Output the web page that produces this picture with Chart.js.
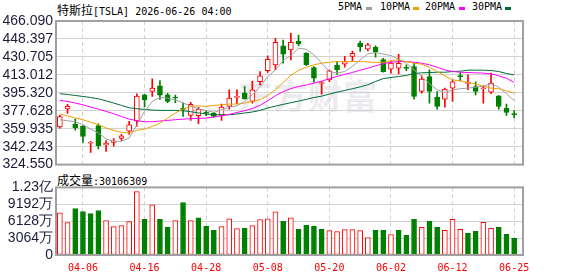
<!DOCTYPE html>
<html>
<head>
<meta charset="utf-8">
<script src="https://cdn.jsdelivr.net/npm/chart.js@4.4.1/dist/chart.umd.min.js"></script>
<style>
body { margin: 0; background: #fff; width: 578px; height: 276px; overflow: hidden; position: relative; }
canvas { position: absolute; left: 0; }
#kline { top: 0; }
#vol { top: 176px; }
.t { position: absolute; white-space: nowrap; line-height: 14px; color: #000; }
.cn { font: 12px "Noto Sans CJK SC"; }
.mono { font: 10px "DejaVu Sans Mono"; }
.sw { position: absolute; width: 6px; height: 3px; top: 7px; }
#wm { position: absolute; left: 238px; top: 70px; font: bold 34px "Noto Sans CJK SC"; color: #ececf0; letter-spacing: 1px; }
</style>
</head>
<body>
<div id="wm">东方财富</div>
<div class="t" style="left:57px;top:1px"><span class="cn">特斯拉</span><span class="mono">[TSLA] 2026-06-26 04:00</span></div>
<div class="t mono" style="left:338px;top:1px">5PMA</div><div class="sw" style="left:366px;background:#a0a0a0"></div>
<div class="t mono" style="left:380px;top:1px">10PMA</div><div class="sw" style="left:413px;background:#f0a000"></div>
<div class="t mono" style="left:425px;top:1px">20PMA</div><div class="sw" style="left:459px;background:#ff00ff"></div>
<div class="t mono" style="left:472px;top:1px">30PMA</div><div class="sw" style="left:505px;background:#006b36"></div>
<div class="t" style="left:57px;top:171px"><span class="cn">成交量</span><span class="mono">:30106309</span></div>
<canvas id="kline" width="578" height="176"></canvas>
<canvas id="vol" width="578" height="100"></canvas>
<script>
const dates = ['03-31','04-01','04-02','04-06','04-07','04-08','04-09','04-10','04-13','04-14',
  '04-15','04-16','04-17','04-20','04-21','04-22','04-23','04-24','04-27','04-28',
  '04-29','04-30','05-01','05-04','05-05','05-06','05-07','05-08','05-11','05-12',
  '05-13','05-14','05-15','05-18','05-19','05-20','05-21','05-22','05-26','05-27',
  '05-28','05-29','06-01','06-02','06-03','06-04','06-05','06-08','06-09','06-10',
  '06-11','06-12','06-15','06-16','06-17','06-18','06-22','06-23','06-24','06-25'];
const tickDates = ['04-06','04-16','04-28','05-08','05-20','06-02','06-12','06-25'];

const opens = [361.6,379.5,364.5,362.2,345.6,363.0,344.0,346.5,350.4,357.5,
  367.3,393.3,396.8,402.2,393.3,390.8,379.5,373.0,372.7,375.6,
  375.0,373.0,381.9,390.8,395.0,386.8,406.4,417.2,422.9,441.5,
  437.5,446.4,434.3,420.2,404.5,408.1,422.5,423.5,431.3,444.1,
  438.3,440.2,428.0,418.6,419.6,419.8,421.2,396.6,411.4,391.1,
  389.1,399.9,411.6,404.6,401.5,399.3,395.9,392.4,379.9,374.2];
const highs = [373.0,384.0,369.5,363.0,347.5,364.7,348.3,350.1,354.5,367.1,
  394.4,393.8,409.0,407.3,394.8,393.0,385.5,386.0,381.0,377.6,
  376.0,384.2,398.3,398.3,401.5,406.6,416.3,431.7,449.1,447.4,
  454.0,452.3,435.0,421.2,406.4,417.9,426.1,431.3,436.5,446.3,
  444.1,441.5,429.4,426.1,433.3,422.9,424.5,412.0,417.9,396.6,
  399.9,408.1,415.3,413.0,406.1,402.2,414.7,392.6,384.2,377.9];
const lows = [360.5,375.0,358.5,346.5,336.6,339.9,337.5,342.6,348.4,354.3,
  362.2,381.5,391.7,388.8,385.5,385.5,372.0,368.0,364.8,372.7,
  371.4,368.1,379.3,384.5,389.1,385.2,403.2,415.3,417.9,424.5,
  427.8,441.5,422.2,405.8,394.0,406.4,413.5,420.5,427.1,436.2,
  436.6,430.5,415.7,414.7,414.0,417.2,389.1,395.0,385.2,379.3,
  381.2,386.8,407.1,398.3,393.3,385.2,394.4,379.3,373.0,370.5];
const closes = [371.8,382.0,360.6,352.4,346.4,343.2,345.6,347.8,353.0,363.7,
  392.0,388.4,400.0,393.0,386.8,390.2,379.0,384.0,379.3,375.2,
  372.0,381.2,390.1,391.7,389.4,398.3,412.0,428.4,445.1,433.3,
  445.1,443.5,422.9,409.8,405.0,417.0,418.0,426.1,434.3,440.8,
  442.5,435.9,416.2,424.5,424.3,419.4,391.7,408.8,396.6,381.9,
  398.9,406.1,411.2,405.0,396.6,399.7,404.8,381.9,376.0,373.8];
const volumes = [76500000,58600000,84300000,78900000,75300000,80700000,62200000,51400000,53200000,60400000,
  114800000,64600000,90900000,64600000,50200000,62200000,95100000,62200000,67600000,52000000,
  44800000,51400000,65800000,47800000,48400000,53200000,64000000,65800000,78300000,61000000,
  67600000,46600000,53800000,52000000,46600000,44200000,42400000,46000000,46000000,44200000,
  31700000,44800000,44800000,37100000,44800000,35900000,64600000,50200000,61000000,50200000,
  44800000,64600000,46600000,39500000,43000000,59200000,48400000,50200000,37700000,30106309];

const ma5 = [368.8,367.8,366.8,363.9,359.6,355.7,349.8,347.5,347.5,350.7,
  363.9,377.0,386.8,390.7,390.1,388.4,385.2,382.5,379.5,378.0,
  376.0,378.6,380.9,382.5,386.8,393.4,401.5,411.4,417.9,427.1,
  432.0,439.2,438.3,432.7,424.5,416.3,414.7,416.3,421.2,427.8,
  433.7,435.0,433.5,432.0,428.4,424.5,417.9,411.4,404.2,398.3,
  395.7,398.3,399.3,399.9,400.9,401.9,404.2,400.9,394.4,387.8];
const ma10 = [374.4,372.7,370.4,368.8,366.2,363.9,360.6,358.3,356.3,355.7,
  358.3,359.6,362.2,365.5,370.4,375.4,379.3,381.9,382.5,381.9,
  382.9,383.5,384.2,384.2,385.2,386.8,388.5,392.5,398.3,405.5,
  412.5,417.5,420.5,422.9,424.5,425.5,426.1,426.1,426.1,426.1,
  425.8,425.2,425.3,427.1,427.8,426.1,424.5,423.5,420.5,416.3,
  412.0,408.1,407.1,405.5,403.8,402.2,399.9,399.3,397.3,395.0];
const ma20 = [387.8,386.8,385.2,383.5,381.2,379.3,377.0,374.7,372.0,369.4,
  367.8,366.8,366.8,367.5,368.1,368.8,369.4,369.8,370.1,370.4,
  371.4,372.7,374.0,376.0,377.6,379.9,383.0,387.5,392.5,396.5,
  399.5,401.5,403.0,404.8,406.8,409.2,411.5,413.5,415.3,417.6,
  419.6,421.9,424.0,425.5,426.1,426.1,425.5,424.5,422.9,420.5,
  417.9,416.3,415.6,415.3,415.0,414.7,414.0,412.0,409.7,405.5];
const ma30 = [394.4,393.7,392.7,391.7,390.7,389.4,387.4,385.2,382.9,380.6,
  379.6,379.0,378.3,378.0,378.0,378.0,377.6,376.7,375.5,374.4,
  373.7,373.7,373.7,374.4,375.4,376.4,378.0,380.3,382.2,383.9,
  385.5,387.1,388.8,390.7,392.0,394.0,396.0,397.6,399.3,401.2,
  403.2,406.5,409.3,410.4,411.4,412.4,414.3,415.0,415.3,415.6,
  415.6,416.3,416.6,417.6,417.6,417.6,417.3,416.3,414.3,413.0];

const priceTicks = [324.550,342.243,359.935,377.628,395.320,413.012,430.705,448.397,466.090];
const volTicks = [0,30640000,61280000,91920000,122560000];
const volTickLabels = ['0','3064万','6128万','9192万','1.23亿'];

const UP = '#ff0000', DOWN = '#008000';
// candle: close vs open; volume: close vs previous close
const up = closes.map((c, i) => c >= opens[i]);
const volUp = closes.map((c, i) => i === 0 ? up[0] : c >= closes[i - 1]);
const xIdx = tickDates.map(d => dates.indexOf(d));
const pts = arr => arr.map((v, i) => ({ x: i, y: v }));

const framePlugin = {
  id: 'frame',
  afterDraw(chart) {
    const { ctx, chartArea: a } = chart;
    ctx.save();
    ctx.strokeStyle = '#a0a0a0';
    ctx.lineWidth = 2;
    ctx.strokeRect(a.left, a.top, a.right - a.left, a.bottom - a.top);
    ctx.restore();
  }
};

function xScale(labels) {
  return {
    type: 'linear', min: -0.5, max: 60.15, offset: false,
    afterBuildTicks: s => { s.ticks = xIdx.map(v => ({ value: v })); },
    grid: { color: '#d2d2d2', drawTicks: false, offset: false },
    border: { display: false, dash: [4, 3] },
    ticks: {
      display: labels, padding: 7, color: '#ff0000', autoSkip: false, maxRotation: 0,
      font: { family: 'DejaVu Sans Mono', size: 10 },
      callback: v => dates[v]
    },
    afterFit: s => { s.height = labels ? 21 : 0; }
  };
}
const yTickFont = { family: 'Liberation Sans', size: 14 };

new Chart(document.getElementById('kline'), {
  type: 'bar',
  data: {
    datasets: [
      { type: 'line', data: pts(ma5), borderColor: '#a0a0a0', borderWidth: 1, pointRadius: 0, order: 1 },
      { type: 'line', data: pts(ma10), borderColor: '#f0a000', borderWidth: 1, pointRadius: 0, order: 1 },
      { type: 'line', data: pts(ma20), borderColor: '#ff00ff', borderWidth: 1, pointRadius: 0, order: 1 },
      { type: 'line', data: pts(ma30), borderColor: '#006b36', borderWidth: 1, pointRadius: 0, order: 1 },
      {
        data: opens.map((o, i) => ({ x: i, y: [o, closes[i]] })),
        backgroundColor: up.map(u => u ? '#ffffff' : DOWN),
        borderColor: up.map(u => u ? UP : DOWN),
        borderWidth: 1, borderSkipped: false, barThickness: 5, minBarLength: 1,
        grouped: false, order: 2
      },
      {
        data: lows.map((l, i) => ({ x: i, y: [l, highs[i]] })),
        backgroundColor: up.map(u => u ? UP : DOWN),
        barThickness: 1, grouped: false, order: 3
      }
    ]
  },
  options: {
    responsive: false, animation: false,
    layout: { padding: { top: 21, right: 55, bottom: 11, left: 0 } },
    plugins: { legend: { display: false }, tooltip: { enabled: false } },
    scales: {
      x: xScale(false),
      y: {
        min: 324.55, max: 466.09,
        afterBuildTicks: s => { s.ticks = priceTicks.map(v => ({ value: v })); },
        grid: { color: '#d2d2d2', drawTicks: false },
        border: { display: false },
        ticks: { padding: 3, autoSkip: false, color: '#1c1c3a', font: yTickFont, callback: v => v.toFixed(3) },
        afterFit: s => { s.width = 56; }
      }
    }
  },
  plugins: [framePlugin]
});

new Chart(document.getElementById('vol'), {
  type: 'bar',
  data: {
    datasets: [{
      data: pts(volumes),
      backgroundColor: volUp.map(u => u ? '#ffffff' : DOWN),
      borderColor: volUp.map(u => u ? UP : DOWN),
      borderWidth: 1, borderSkipped: false, barThickness: 5
    }]
  },
  options: {
    responsive: false, animation: false,
    layout: { padding: { top: 11, right: 55, bottom: 0, left: 0 } },
    plugins: { legend: { display: false }, tooltip: { enabled: false } },
    scales: {
      x: xScale(true),
      y: {
        min: 0, max: 122560000,
        afterBuildTicks: s => { s.ticks = volTicks.map(v => ({ value: v })); },
        grid: { color: '#d2d2d2', drawTicks: false },
        border: { display: false },
        ticks: { padding: 3, autoSkip: false, color: '#1c1c3a', font: yTickFont, callback: (v, i) => volTickLabels[i] },
        afterFit: s => { s.width = 56; }
      }
    }
  },
  plugins: [framePlugin]
});
</script>
</body>
</html>
